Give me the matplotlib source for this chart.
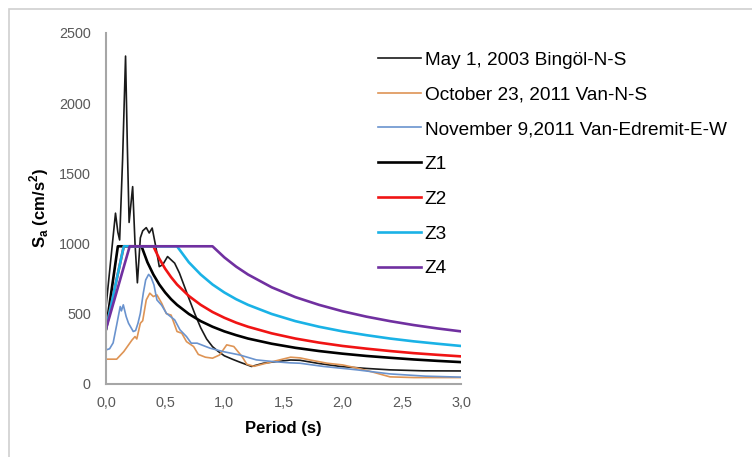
import matplotlib

matplotlib.use("Agg")
import matplotlib.pyplot as plt
from matplotlib.patches import Rectangle

plt.rcParams.update({
    "font.family": ["Liberation Sans", "DejaVu Sans"],
    "mathtext.fontset": "custom",
    "mathtext.rm": "Liberation Sans",
    "mathtext.bf": "Liberation Sans:bold",
})

# acceleration response spectra of the records (period s, Sa cm/s2)
bingol_T = [0.00, 0.03, 0.06, 0.08, 0.10, 0.115, 0.14, 0.165, 0.18, 0.195, 0.225,
            0.245, 0.265, 0.29, 0.31, 0.34, 0.365, 0.39, 0.42, 0.45, 0.48, 0.52,
            0.58, 0.62, 0.66, 0.70, 0.75, 0.80, 0.85, 0.90, 0.95, 1.00, 1.07,
            1.13, 1.23, 1.33, 1.44, 1.56, 1.64, 1.80, 1.98, 2.20, 2.40, 2.68, 3.00]
bingol_Sa = [550, 800, 1050, 1216, 1080, 1025, 1600, 2335, 1700, 1150, 1405,
             1000, 720, 1040, 1090, 1113, 1075, 1110, 980, 835, 850, 907,
             860, 790, 700, 610, 500, 400, 320, 265, 230, 200, 175,
             155, 124, 147, 159, 170, 168, 145, 124, 110, 100, 93, 92]

van_T = [0.00, 0.09, 0.15, 0.22, 0.245, 0.26, 0.29, 0.31, 0.34, 0.37, 0.40,
         0.43, 0.47, 0.51, 0.55, 0.60, 0.64, 0.68, 0.74, 0.78, 0.84, 0.90,
         0.96, 1.02, 1.08, 1.15, 1.19, 1.25, 1.32, 1.41, 1.56, 1.64, 1.72,
         1.87, 2.00, 2.12, 2.25, 2.34, 2.40, 2.60, 3.00]
van_Sa = [176, 176, 230, 313, 337, 320, 432, 450, 598, 646, 622,
          634, 575, 500, 490, 373, 361, 301, 266, 210, 190, 183,
          206, 278, 266, 194, 140, 125, 140, 159, 190, 185, 171,
          147, 135, 113, 85, 64, 50, 45, 45]

edremit_T = [0.00, 0.03, 0.06, 0.09, 0.12, 0.13, 0.146, 0.17, 0.19, 0.23, 0.25,
             0.27, 0.29, 0.315, 0.335, 0.36, 0.38, 0.405, 0.43, 0.47, 0.51,
             0.58, 0.625, 0.68, 0.72, 0.77, 0.88, 0.99, 1.13, 1.27, 1.41,
             1.55, 1.64, 1.84, 2.12, 2.40, 2.70, 3.00]
edremit_Sa = [242, 250, 292, 420, 551, 520, 563, 480, 432, 373, 380,
              432, 503, 647, 740, 780, 760, 705, 598, 560, 503,
              456, 385, 337, 290, 290, 254, 230, 206, 171, 159,
              150, 147, 124, 100, 71, 55, 48]

# design spectra for local site classes Z1-Z4
design_T = [0.0, 0.1, 0.15, 0.2, 0.25, 0.3, 0.35, 0.4, 0.45, 0.5, 0.55, 0.6,
            0.7, 0.8, 0.9, 1.0, 1.1, 1.2, 1.4, 1.6, 1.8, 2.0, 2.2, 2.4, 2.6,
            2.8, 3.0]
z1_Sa = [392, 980, 980, 980, 980, 980, 866, 779, 708, 651, 603, 563,
         498, 447, 407, 374, 347, 323, 286, 257, 234, 215, 199, 186, 174,
         164, 155]
z2_Sa = [392, 784, 980, 980, 980, 980, 980, 980, 892, 820, 760, 708,
         626, 563, 512, 471, 436, 407, 360, 323, 294, 270, 251, 234, 219,
         207, 196]
z3_Sa = [392, 784, 980, 980, 980, 980, 980, 980, 980, 980, 980, 980,
         866, 779, 708, 651, 603, 563, 498, 447, 407, 374, 347, 323, 303,
         286, 270]
z4_Sa = [392, 686, 833, 980, 980, 980, 980, 980, 980, 980, 980, 980,
         980, 980, 980, 901, 835, 779, 688, 618, 563, 517, 479, 447, 419,
         395, 374]

fig = plt.figure(figsize=(7.52, 4.57), dpi=100)
ax = fig.add_axes([0.141, 0.160, 0.472, 0.768])

ax.plot(bingol_T, bingol_Sa, color="#1a1a1a", lw=1.2, label="May 1, 2003 Bingöl-N-S")
ax.plot(van_T, van_Sa, color="#DE9455", lw=1.2, label="October 23, 2011 Van-N-S")
ax.plot(edremit_T, edremit_Sa, color="#6A93CE", lw=1.2,
        label="November 9,2011 Van-Edremit-E-W")
ax.plot(design_T, z1_Sa, color="black", lw=1.9, label="Z1")
ax.plot(design_T, z2_Sa, color="#F01414", lw=1.9, label="Z2")
ax.plot(design_T, z3_Sa, color="#1AB2E6", lw=1.9, label="Z3")
ax.plot(design_T, z4_Sa, color="#7030A0", lw=1.9, label="Z4")

ax.set_xlim(0, 3.0)
ax.set_ylim(0, 2500)
ax.set_xticks([0, 0.5, 1.0, 1.5, 2.0, 2.5, 3.0])
ax.set_xticklabels(["0,0", "0,5", "1,0", "1,5", "2,0", "2,5", "3,0"])
ax.set_yticks([0, 500, 1000, 1500, 2000, 2500])
ax.tick_params(length=0, labelsize=10.4, labelcolor="#595959")
ax.tick_params(axis="y", pad=11)
ax.tick_params(axis="x", pad=9)
for s in ["top", "right"]:
    ax.spines[s].set_visible(False)
for s in ["left", "bottom"]:
    ax.spines[s].set_color("#A6A6A6")
    ax.spines[s].set_linewidth(1.5)

ax.set_xlabel("Period (s)", fontsize=12, fontweight="bold", labelpad=8)
ax.set_ylabel(r"S$_\mathbf{a}$ (cm/s$^\mathbf{2}$)", fontsize=12, fontweight="bold",
              labelpad=6)

fig.legend(loc="upper left", bbox_to_anchor=(0.503, 0.888), frameon=False,
           fontsize=13.7, handlelength=2.24, handletextpad=0.2, labelspacing=0.92,
           borderpad=0, borderaxespad=0)

fig.patches.append(Rectangle((9 / 752, -0.1), 2, 1.1 - 9 / 457, transform=fig.transFigure,
                             fill=False, edgecolor="#D0D0D0", lw=1.2))

fig.savefig("out.png", dpi=100)
